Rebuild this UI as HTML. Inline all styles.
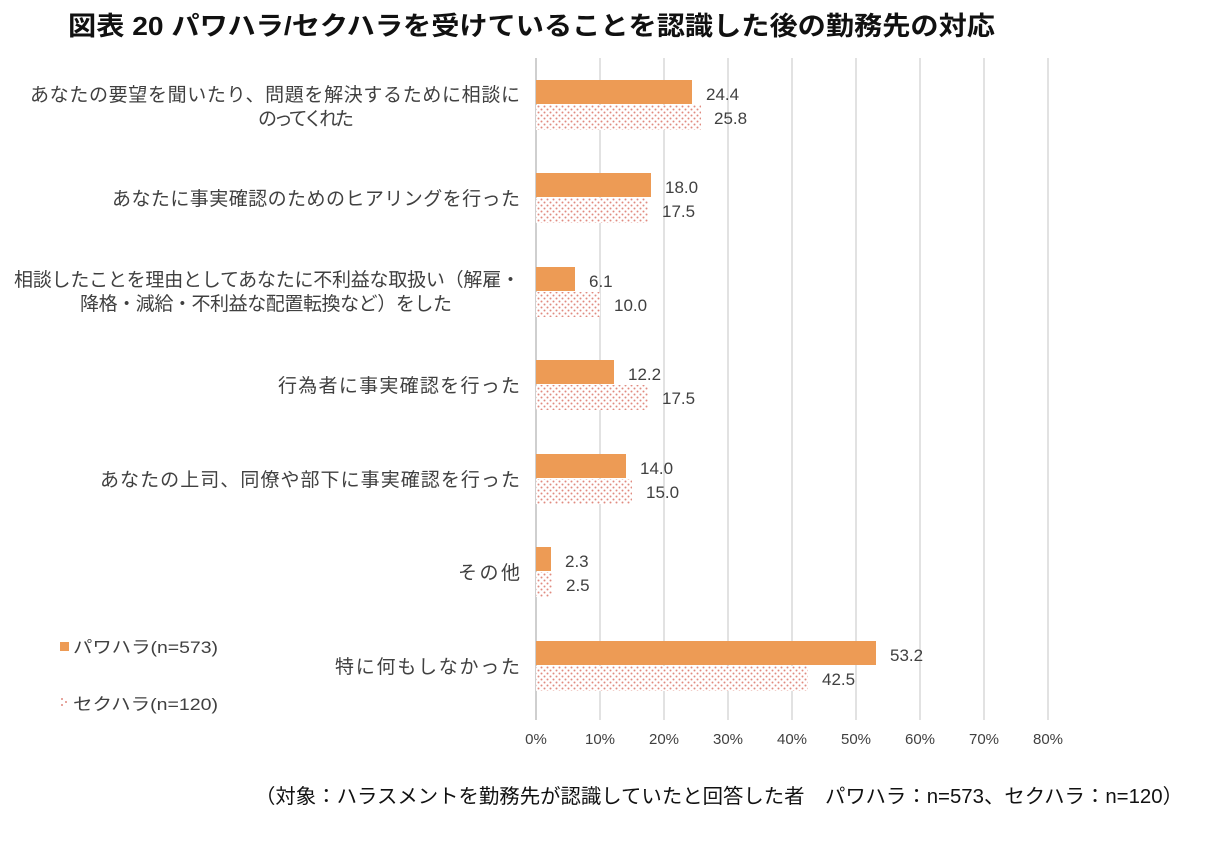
<!DOCTYPE html>
<html><head><meta charset="utf-8"><style>
body{margin:0;background:#fff;}
text{font-family:"Liberation Sans","Noto Sans CJK JP",sans-serif;}
</style></head><body>
<svg width="1208" height="844" xmlns="http://www.w3.org/2000/svg">
<defs>
<pattern id="dots" width="6" height="6" patternUnits="userSpaceOnUse">
<rect width="6" height="6" fill="#fff"/>
<circle cx="1.5" cy="1.5" r="1" fill="#e08a80"/>
<circle cx="4.5" cy="4.5" r="1" fill="#e08a80"/>
</pattern>
</defs>
<text x="68" y="35" font-size="26" font-weight="bold" fill="#111" textLength="927" lengthAdjust="spacingAndGlyphs">図表  20  パワハラ/セクハラを受けていることを認識した後の勤務先の対応</text>
<g stroke="#d9d9d9" stroke-width="1.5">
<line x1="600" y1="58" x2="600" y2="720"/><line x1="664" y1="58" x2="664" y2="720"/>
<line x1="728" y1="58" x2="728" y2="720"/><line x1="792" y1="58" x2="792" y2="720"/>
<line x1="856" y1="58" x2="856" y2="720"/><line x1="920" y1="58" x2="920" y2="720"/>
<line x1="984" y1="58" x2="984" y2="720"/><line x1="1048" y1="58" x2="1048" y2="720"/>
</g>
<line x1="536" y1="58" x2="536" y2="720" stroke="#bfbfbf" stroke-width="1.5"/>
<g font-size="15" fill="#404040" text-anchor="middle">
<text x="536" y="744">0%</text><text x="600" y="744">10%</text><text x="664" y="744">20%</text>
<text x="728" y="744">30%</text><text x="792" y="744">40%</text><text x="856" y="744">50%</text>
<text x="920" y="744">60%</text><text x="984" y="744">70%</text><text x="1048" y="744">80%</text>
</g>
<g font-size="17" fill="#404040">
<rect x="536" y="80" width="156" height="24" fill="#ed9b55"/>
<rect x="536" y="105" width="165" height="25" fill="url(#dots)"/>
<text x="706" y="100">24.4</text><text x="714" y="124">25.8</text>
<rect x="536" y="173" width="115" height="24" fill="#ed9b55"/>
<rect x="536" y="198" width="112" height="25" fill="url(#dots)"/>
<text x="665" y="193">18.0</text><text x="662" y="217">17.5</text>
<rect x="536" y="267" width="39" height="24" fill="#ed9b55"/>
<rect x="536" y="292" width="64" height="25" fill="url(#dots)"/>
<text x="589" y="287">6.1</text><text x="614" y="311">10.0</text>
<rect x="536" y="360" width="78" height="24" fill="#ed9b55"/>
<rect x="536" y="385" width="112" height="25" fill="url(#dots)"/>
<text x="628" y="380">12.2</text><text x="662" y="404">17.5</text>
<rect x="536" y="454" width="90" height="24" fill="#ed9b55"/>
<rect x="536" y="479" width="96" height="25" fill="url(#dots)"/>
<text x="640" y="474">14.0</text><text x="646" y="498">15.0</text>
<rect x="536" y="547" width="15" height="24" fill="#ed9b55"/>
<rect x="536" y="572" width="16" height="25" fill="url(#dots)"/>
<text x="565" y="567">2.3</text><text x="566" y="591">2.5</text>
<rect x="536" y="641" width="340" height="24" fill="#ed9b55"/>
<rect x="536" y="666" width="272" height="25" fill="url(#dots)"/>
<text x="890" y="661">53.2</text><text x="822" y="685">42.5</text>
</g>
<g font-size="19" fill="#404040" lengthAdjust="spacingAndGlyphs">
<text x="30" y="101" textLength="490">あなたの要望を聞いたり、問題を解決するために相談に</text>
<text x="258" y="125" textLength="96">のってくれた</text>
<text x="112" y="205" textLength="408">あなたに事実確認のためのヒアリングを行った</text>
<text x="14" y="286" textLength="506">相談したことを理由としてあなたに不利益な取扱い（解雇・</text>
<text x="80" y="310" textLength="372">降格・減給・不利益な配置転換など）をした</text>
<text x="278" y="392" textLength="242">行為者に事実確認を行った</text>
<text x="100" y="486" textLength="420">あなたの上司、同僚や部下に事実確認を行った</text>
<text x="458" y="579" textLength="62">その他</text>
<text x="335" y="673" textLength="185">特に何もしなかった</text>
</g>
<rect x="60" y="642" width="9" height="9" fill="#ed9b55"/>
<circle cx="62" cy="699" r="1" fill="#e08a80"/><circle cx="66" cy="702" r="1" fill="#e08a80"/><circle cx="62" cy="705" r="1" fill="#e08a80"/>
<g font-size="17" fill="#404040">
<text x="73" y="653" textLength="145" lengthAdjust="spacingAndGlyphs">パワハラ(n=573)</text>
<text x="73" y="710" textLength="145" lengthAdjust="spacingAndGlyphs">セクハラ(n=120)</text>
</g>
<text x="255" y="803" font-size="20" fill="#111" textLength="928" lengthAdjust="spacingAndGlyphs">（対象：ハラスメントを勤務先が認識していたと回答した者　パワハラ：n=573、セクハラ：n=120）</text>
</svg>
</body></html>
